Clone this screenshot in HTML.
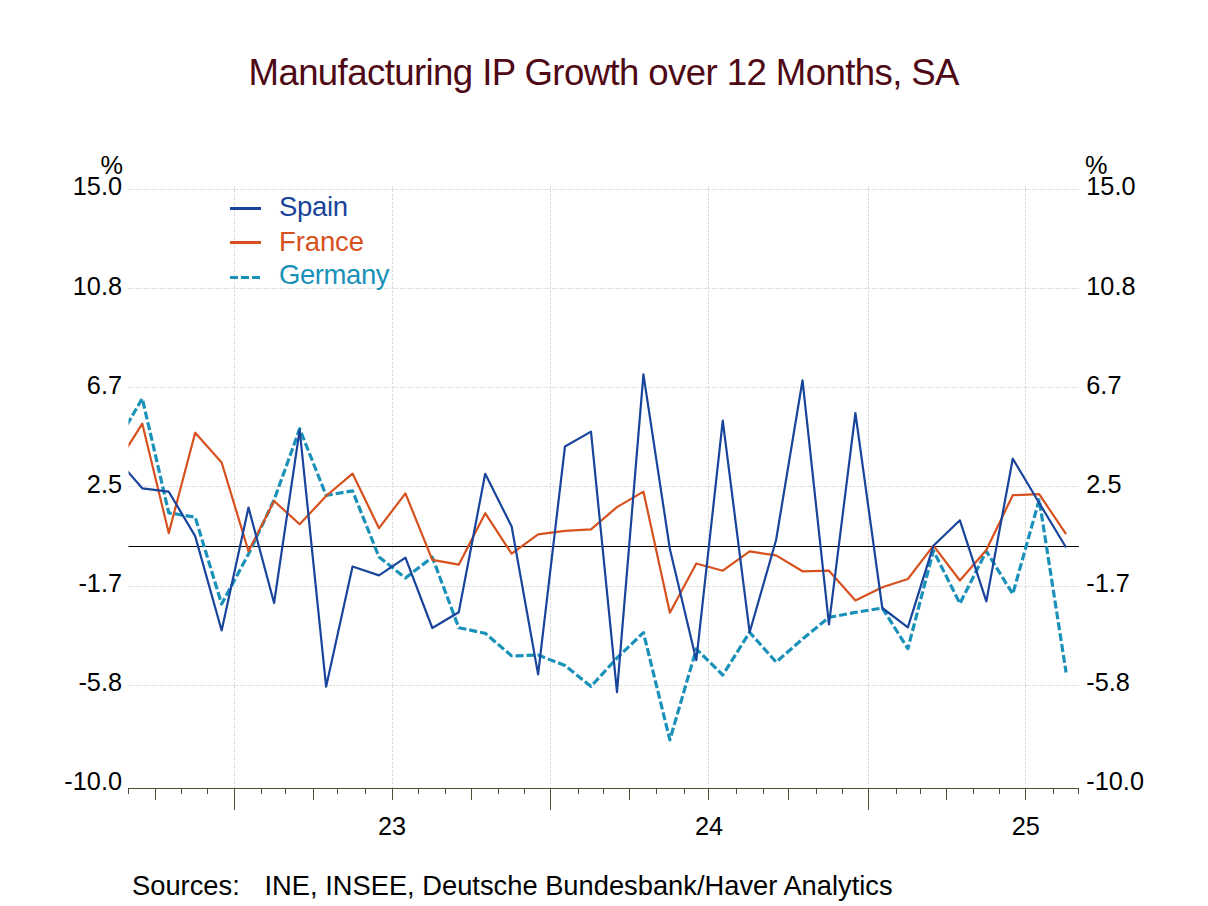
<!DOCTYPE html>
<html><head><meta charset="utf-8"><style>
html,body{margin:0;padding:0;background:#fff;width:1208px;height:906px;overflow:hidden}
svg{display:block}
text{font-family:"Liberation Sans",sans-serif}
</style></head><body>
<svg width="1208" height="906" viewBox="0 0 1208 906">
<rect width="1208" height="906" fill="#fff"/>
<defs><clipPath id="pc"><rect x="128.5" y="150" width="950" height="639"/></clipPath></defs>

<text x="248.5" y="85" font-size="36.6" textLength="711" lengthAdjust="spacing" fill="#4e0915">Manufacturing IP Growth over 12 Months, SA</text>
<g stroke="#dadada" stroke-width="1" stroke-dasharray="3,1,2,2" fill="none"><line x1="128.5" y1="189.5" x2="1079" y2="189.5"/><line x1="128.5" y1="288.5" x2="1079" y2="288.5"/><line x1="128.5" y1="387.5" x2="1079" y2="387.5"/><line x1="128.5" y1="486.5" x2="1079" y2="486.5"/><line x1="128.5" y1="586.5" x2="1079" y2="586.5"/><line x1="128.5" y1="685.5" x2="1079" y2="685.5"/><line x1="234.5" y1="186" x2="234.5" y2="788"/><line x1="392.5" y1="186" x2="392.5" y2="788"/><line x1="550.5" y1="186" x2="550.5" y2="788"/><line x1="708.5" y1="186" x2="708.5" y2="788"/><line x1="868.5" y1="186" x2="868.5" y2="788"/><line x1="1025.5" y1="186" x2="1025.5" y2="788"/></g>
<line x1="128.5" y1="546.5" x2="1079" y2="546.5" stroke="#000" stroke-width="1"/>
<text x="122" y="195.3" font-size="25.3" text-anchor="end" fill="#000">15.0</text>
<text x="1086.3" y="195.3" font-size="25.3" fill="#000">15.0</text>
<text x="122" y="294.5" font-size="25.3" text-anchor="end" fill="#000">10.8</text>
<text x="1086.3" y="294.5" font-size="25.3" fill="#000">10.8</text>
<text x="122" y="393.6" font-size="25.3" text-anchor="end" fill="#000">6.7</text>
<text x="1086.3" y="393.6" font-size="25.3" fill="#000">6.7</text>
<text x="122" y="492.8" font-size="25.3" text-anchor="end" fill="#000">2.5</text>
<text x="1086.3" y="492.8" font-size="25.3" fill="#000">2.5</text>
<text x="122" y="592.0" font-size="25.3" text-anchor="end" fill="#000">-1.7</text>
<text x="1086.3" y="592.0" font-size="25.3" fill="#000">-1.7</text>
<text x="122" y="691.1" font-size="25.3" text-anchor="end" fill="#000">-5.8</text>
<text x="1086.3" y="691.1" font-size="25.3" fill="#000">-5.8</text>
<text x="122" y="790.3" font-size="25.3" text-anchor="end" fill="#000">-10.0</text>
<text x="1086.3" y="790.3" font-size="25.3" fill="#000">-10.0</text>
<text x="123" y="173.5" font-size="25.3" text-anchor="end" fill="#000">%</text>
<text x="1085" y="173.5" font-size="25.3" fill="#000">%</text>
<g stroke="#4f4f36" stroke-width="1" fill="none"><line x1="128" y1="788.5" x2="1079" y2="788.5"/><line x1="128.5" y1="788" x2="128.5" y2="794"/><line x1="155.5" y1="788" x2="155.5" y2="800"/><line x1="181.5" y1="788" x2="181.5" y2="794"/><line x1="207.5" y1="788" x2="207.5" y2="794"/><line x1="234.5" y1="788" x2="234.5" y2="810"/><line x1="261.5" y1="788" x2="261.5" y2="794"/><line x1="285.5" y1="788" x2="285.5" y2="794"/><line x1="313.5" y1="788" x2="313.5" y2="800"/><line x1="337.5" y1="788" x2="337.5" y2="794"/><line x1="365.5" y1="788" x2="365.5" y2="794"/><line x1="392.5" y1="788" x2="392.5" y2="800"/><line x1="418.5" y1="788" x2="418.5" y2="794"/><line x1="445.5" y1="788" x2="445.5" y2="794"/><line x1="471.5" y1="788" x2="471.5" y2="800"/><line x1="498.5" y1="788" x2="498.5" y2="794"/><line x1="524.5" y1="788" x2="524.5" y2="794"/><line x1="550.5" y1="788" x2="550.5" y2="810"/><line x1="578.5" y1="788" x2="578.5" y2="794"/><line x1="603.5" y1="788" x2="603.5" y2="794"/><line x1="629.5" y1="788" x2="629.5" y2="800"/><line x1="656.5" y1="788" x2="656.5" y2="794"/><line x1="684.5" y1="788" x2="684.5" y2="794"/><line x1="708.5" y1="788" x2="708.5" y2="800"/><line x1="736.5" y1="788" x2="736.5" y2="794"/><line x1="763.5" y1="788" x2="763.5" y2="794"/><line x1="788.5" y1="788" x2="788.5" y2="800"/><line x1="816.5" y1="788" x2="816.5" y2="794"/><line x1="842.5" y1="788" x2="842.5" y2="794"/><line x1="868.5" y1="788" x2="868.5" y2="810"/><line x1="896.5" y1="788" x2="896.5" y2="794"/><line x1="920.5" y1="788" x2="920.5" y2="794"/><line x1="946.5" y1="788" x2="946.5" y2="800"/><line x1="973.5" y1="788" x2="973.5" y2="794"/><line x1="999.5" y1="788" x2="999.5" y2="794"/><line x1="1025.5" y1="788" x2="1025.5" y2="800"/><line x1="1053.5" y1="788" x2="1053.5" y2="794"/><line x1="1078.5" y1="788" x2="1078.5" y2="794"/></g>
<text x="392.1" y="834.8" font-size="25.3" text-anchor="middle" fill="#000">23</text>
<text x="709.0" y="834.8" font-size="25.3" text-anchor="middle" fill="#000">24</text>
<text x="1025.8" y="834.8" font-size="25.3" text-anchor="middle" fill="#000">25</text>
<g clip-path="url(#pc)" fill="none" stroke-linejoin="round">
<polyline points="115.86,444.00 142.31,398.50 168.75,512.80 195.19,517.20 221.64,604.00 248.51,554.00 274.09,500.00 299.67,428.80 326.11,495.40 352.55,490.90 379.00,557.00 405.44,577.90 432.32,557.20 458.76,627.70 485.20,633.30 511.65,655.90 538.09,655.10 564.97,665.50 590.98,686.40 616.99,658.00 643.43,632.60 669.87,739.90 696.32,649.00 722.76,675.00 749.64,632.30 776.08,662.10 802.53,639.00 828.97,617.40 855.41,612.40 882.29,608.00 907.87,648.60 933.44,550.70 959.89,603.50 986.33,551.20 1012.77,594.00 1039.22,499.70 1066.09,672.50" stroke="#1a91b8" stroke-width="3.2" stroke-dasharray="8,3"/>
<polyline points="115.86,465.70 142.31,423.70 168.75,533.10 195.19,432.70 221.64,462.50 248.51,551.20 274.09,501.00 299.67,524.30 326.11,496.00 352.55,473.60 379.00,528.20 405.44,493.40 432.32,559.80 458.76,564.70 485.20,513.20 511.65,553.70 538.09,534.40 564.97,530.80 590.98,529.40 616.99,507.10 643.43,491.60 669.87,612.70 696.32,563.50 722.76,570.70 749.64,551.40 776.08,555.40 802.53,571.30 828.97,570.70 855.41,600.50 882.29,587.20 907.87,579.00 933.44,545.70 959.89,580.50 986.33,550.00 1012.77,495.20 1039.22,494.20 1066.09,534.20" stroke="#d6511e" stroke-width="2.2"/>
<polyline points="115.86,458.00 142.31,488.30 168.75,491.70 195.19,536.10 221.64,630.50 248.51,507.50 274.09,603.00 299.67,429.80 326.11,686.70 352.55,566.50 379.00,575.40 405.44,557.70 432.32,628.00 458.76,612.20 485.20,473.80 511.65,526.50 538.09,674.40 564.97,446.50 590.98,431.60 616.99,692.20 643.43,374.30 669.87,549.00 696.32,660.20 722.76,420.70 749.64,632.30 776.08,540.00 802.53,380.30 828.97,624.30 855.41,413.00 882.29,608.00 907.87,627.40 933.44,545.70 959.89,520.30 986.33,601.40 1012.77,458.70 1039.22,503.00 1066.09,547.50" stroke="#19449b" stroke-width="2.2"/>
</g>
<line x1="230" y1="208.5" x2="261" y2="208.5" stroke="#19449b" stroke-width="3"/>
<line x1="230" y1="242.5" x2="261" y2="242.5" stroke="#d6511e" stroke-width="3"/>
<line x1="230" y1="277.5" x2="261" y2="277.5" stroke="#1a91b8" stroke-width="3" stroke-dasharray="8,3"/>
<text x="279" y="216.1" font-size="27.5" textLength="69" lengthAdjust="spacing" fill="#19449b">Spain</text>
<text x="279" y="250.5" font-size="27.5" textLength="85" lengthAdjust="spacing" fill="#d6511e">France</text>
<text x="279" y="284.4" font-size="27.5" textLength="110.5" lengthAdjust="spacing" fill="#1a91b8">Germany</text>
<text x="132" y="895.2" font-size="27.3" fill="#000">Sources:</text>
<text x="264.5" y="895.2" font-size="27.3" fill="#000">INE, INSEE, Deutsche Bundesbank/Haver Analytics</text>
</svg></body></html>
